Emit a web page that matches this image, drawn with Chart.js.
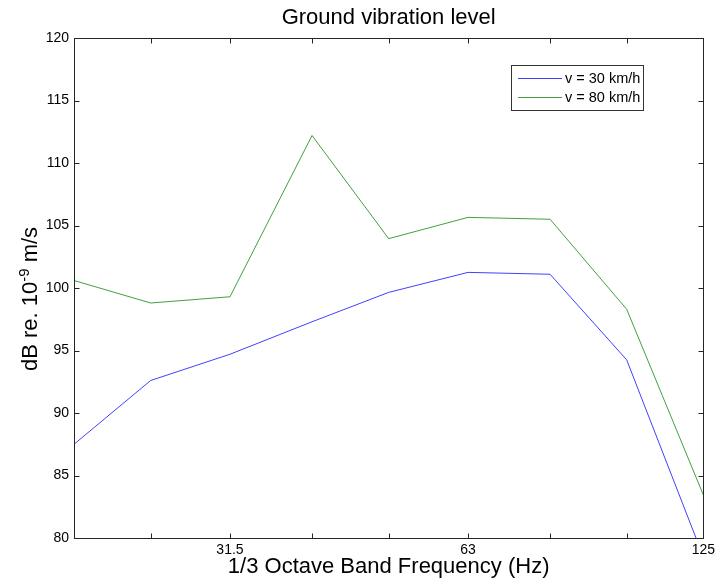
<!DOCTYPE html>
<html>
<head>
<meta charset="utf-8">
<script src="https://cdn.jsdelivr.net/npm/chart.js@4"></script>
<style>
  html, body { margin: 0; padding: 0; background: #fff; }
  #wrap { width: 719px; height: 587px; }
</style>
</head>
<body>
<div id="wrap"><canvas id="chart"></canvas></div>
<script>
// 1/3 octave band centre frequencies (Hz)
const bandsHz = [20, 25, 31.5, 40, 50, 63, 80, 100, 125];
const labeledBands = [31.5, 63, 125];

// vibration level in dB re. 1e-9 m/s
const speed30 = [87.5, 92.6, 94.7, 97.3, 99.65, 101.25, 101.1, 94.25, 78.5];
const speed80 = [100.6, 98.8, 99.3, 112.2, 103.95, 105.65, 105.5, 98.3, 83.45];

const seriesLabels = ['v = 30 km/h', 'v = 80 km/h'];
const seriesColors = ['rgba(0, 0, 255, 0.75)', 'rgba(0, 128, 0, 0.75)'];

const fontFamily = '"Liberation Sans", Arial, Helvetica, sans-serif';

// MATLAB-ish frame: box, inward ticks, title, y label and legend
const framePlugin = {
    id: 'frame',
    afterDraw(chart) {
        const ctx = chart.ctx;
        const area = chart.chartArea;
        const xs = chart.scales.x;
        const ys = chart.scales.y;
        const L = Math.round(area.left) + 0.5;
        const R = Math.round(area.right) + 0.5;
        const T = Math.round(area.top) + 0.5;
        const B = Math.round(area.bottom) + 0.5;
        const tick = 5;

        ctx.save();
        ctx.strokeStyle = '#262626';
        ctx.lineWidth = 1;
        ctx.strokeRect(L, T, R - L, B - T);

        ctx.beginPath();
        bandsHz.forEach(f => {
            const px = Math.round(xs.getPixelForValue(f)) + 0.5;
            ctx.moveTo(px, B); ctx.lineTo(px, B - tick);
            ctx.moveTo(px, T); ctx.lineTo(px, T + tick);
        });
        ys.ticks.forEach(t => {
            const py = Math.round(ys.getPixelForValue(t.value)) + 0.5;
            ctx.moveTo(L, py); ctx.lineTo(L + tick, py);
            ctx.moveTo(R, py); ctx.lineTo(R - tick, py);
        });
        ctx.stroke();

        // title
        ctx.fillStyle = '#000';
        ctx.font = '22px ' + fontFamily;
        ctx.textAlign = 'center';
        ctx.textBaseline = 'middle';
        ctx.fillText('Ground vibration level', (area.left + area.right) / 2, 18);

        // y label with superscript exponent
        const bigFont = '22px ' + fontFamily;
        const supFont = '15px ' + fontFamily;
        const parts = [['dB re. 10', bigFont, 0], ['-9', supFont, -8], [' m/s', bigFont, 0]];
        let total = 0;
        parts.forEach(p => { ctx.font = p[1]; p.push(ctx.measureText(p[0]).width); total += p[3]; });
        ctx.save();
        ctx.translate(0, 299);
        ctx.rotate(-Math.PI / 2);
        ctx.textAlign = 'left';
        ctx.textBaseline = 'alphabetic';
        let cx = -total / 2;
        parts.forEach(p => {
            ctx.font = p[1];
            ctx.fillText(p[0], cx, 37 + p[2]);
            cx += p[3];
        });
        ctx.restore();

        // legend
        const bx = 511.5, by = 65.5, bw = 132, bh = 45;
        ctx.fillStyle = '#fff';
        ctx.fillRect(bx, by, bw, bh);
        ctx.strokeStyle = '#333';
        ctx.strokeRect(bx, by, bw, bh);
        ctx.font = '14.5px ' + fontFamily;
        ctx.textAlign = 'left';
        ctx.textBaseline = 'middle';
        chart.data.datasets.forEach((ds, i) => {
            const y = 78.5 + i * 19;
            ctx.strokeStyle = ds.borderColor;
            ctx.beginPath();
            ctx.moveTo(518, y);
            ctx.lineTo(562, y);
            ctx.stroke();
            ctx.fillStyle = '#000';
            ctx.fillText(ds.label, 565, y);
        });
        ctx.restore();
    }
};

function makeSeries(values) {
    return bandsHz.map((f, i) => ({ x: f, y: values[i] }));
}

new Chart(document.getElementById('chart'), {
    type: 'line',
    data: {
        datasets: [speed30, speed80].map((vals, i) => ({
            label: seriesLabels[i],
            data: makeSeries(vals),
            borderColor: seriesColors[i],
            backgroundColor: seriesColors[i],
            borderWidth: 1,
            pointRadius: 0,
            tension: 0,
            fill: false
        }))
    },
    options: {
        responsive: true,
        maintainAspectRatio: false,
        animation: false,
        layout: { padding: { top: 38, right: 11, left: 0, bottom: 0 } },
        plugins: {
            legend: { display: false },
            title: { display: false },
            tooltip: { enabled: false }
        },
        scales: {
            x: {
                type: 'logarithmic',
                min: 20,
                max: 125,
                afterBuildTicks: axis => {
                    axis.ticks = bandsHz.map(v => ({ value: v }));
                },
                afterFit: scale => { scale.height = 49; },
                grid: { display: false, drawTicks: false },
                border: { display: false },
                ticks: {
                    autoSkip: false,
                    maxRotation: 0,
                    padding: 4,
                    color: '#000',
                    font: { family: fontFamily, size: 14 },
                    callback: v => labeledBands.includes(v) ? String(v) : ''
                },
                title: {
                    display: true,
                    text: '1/3 Octave Band Frequency (Hz)',
                    color: '#000',
                    font: { family: fontFamily, size: 22 },
                    padding: { top: 0, bottom: 7 }
                }
            },
            y: {
                min: 80,
                max: 120,
                afterFit: scale => { scale.width = 74; },
                grid: { display: false, drawTicks: false },
                border: { display: false },
                ticks: {
                    stepSize: 5,
                    padding: 5,
                    color: '#000',
                    font: { family: fontFamily, size: 14 }
                }
            }
        }
    },
    plugins: [framePlugin]
});
</script>
</body>
</html>
